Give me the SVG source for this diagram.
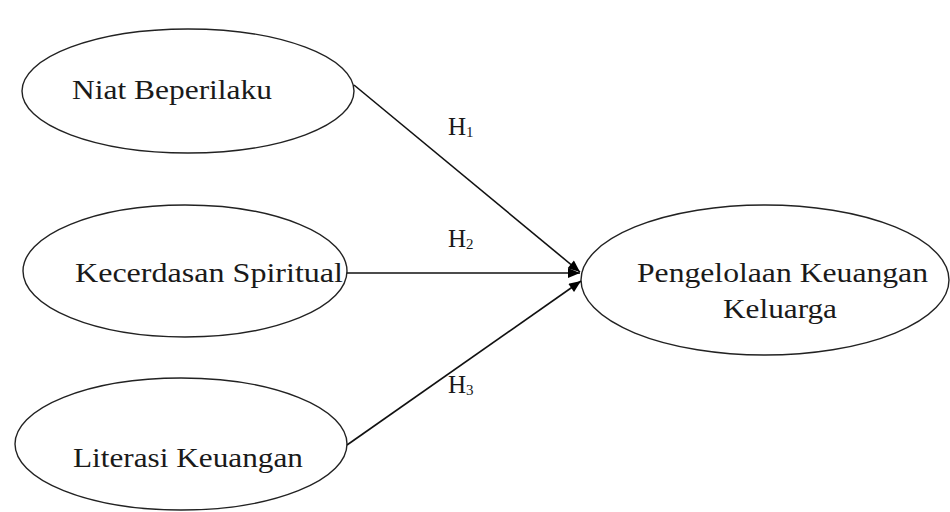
<svg xmlns="http://www.w3.org/2000/svg" width="950" height="512" viewBox="0 0 950 512">
<style>
.node ellipse{fill:#fff;stroke:#222;stroke-width:1.4}
text{font-family:"Liberation Serif","Times New Roman",serif;font-size:28px;fill:#1a1a1a}
.h{font-size:25px}
.sub{font-size:15px}
.conn line{stroke:#111;stroke-width:1.6;fill:none}
</style>
<defs>
<marker id="arr" viewBox="0 0 12 10" refX="12" refY="5" markerWidth="13" markerHeight="10" markerUnits="userSpaceOnUse" orient="auto">
<path d="M0,0 L12,5 L0,10 Z" fill="#000"/>
</marker>
</defs>
<g id="n1" class="node"><ellipse cx="188" cy="91" rx="166" ry="62"/><text x="72" y="99" textLength="200" lengthAdjust="spacingAndGlyphs">Niat Beperilaku</text></g>
<g id="n2" class="node"><ellipse cx="185" cy="271" rx="162" ry="66"/><text x="75" y="282" textLength="268" lengthAdjust="spacingAndGlyphs">Kecerdasan Spiritual</text></g>
<g id="n3" class="node"><ellipse cx="181" cy="444" rx="166" ry="66"/><text x="73" y="467" textLength="230" lengthAdjust="spacingAndGlyphs">Literasi Keuangan</text></g>
<g id="n4" class="node"><ellipse cx="765" cy="280" rx="184" ry="75"/><text x="637" y="282" textLength="291" lengthAdjust="spacingAndGlyphs">Pengelolaan Keuangan</text><text x="723" y="318" textLength="114" lengthAdjust="spacingAndGlyphs">Keluarga</text></g>
<g id="connectors" class="conn">
<line x1="354" y1="85" x2="580" y2="272" marker-end="url(#arr)"/>
<line x1="347" y1="273" x2="580" y2="273" marker-end="url(#arr)"/>
<line x1="347" y1="445" x2="581" y2="281" marker-end="url(#arr)"/>
</g>
<g id="labels">
<text class="h" x="448" y="135">H<tspan class="sub" dy="2">1</tspan></text>
<text class="h" x="448" y="247">H<tspan class="sub" dy="2">2</tspan></text>
<text class="h" x="448" y="393">H<tspan class="sub" dy="2">3</tspan></text>
</g>
</svg>
